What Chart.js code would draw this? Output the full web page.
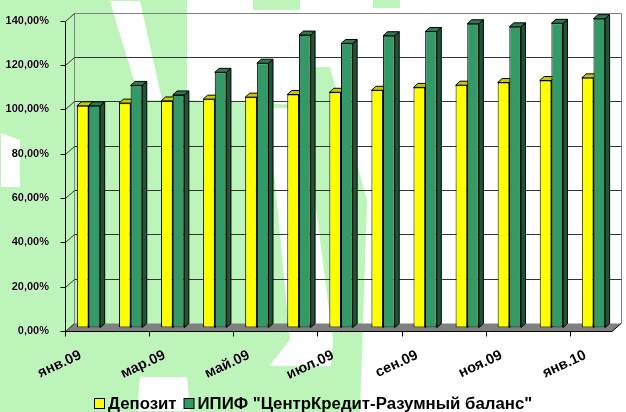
<!DOCTYPE html>
<html>
<head>
<meta charset="utf-8">
<script src="https://cdn.jsdelivr.net/npm/chart.js@4.4.0/dist/chart.umd.min.js"></script>
<style>
  html, body { margin: 0; padding: 0; background: #fff; }
</style>
</head>
<body>
<canvas id="myChart" width="626" height="412"></canvas>
<script>
const labels = ['янв.09', 'фев.09', 'мар.09', 'апр.09', 'май.09', 'июн.09', 'июл.09',
                'авг.09', 'сен.09', 'окт.09', 'ноя.09', 'дек.09', 'янв.10'];
const deposit = [100.0, 101.2, 102.2, 103.0, 103.9, 105.1, 106.1, 107.0, 108.3, 109.3, 110.5, 111.4, 112.6];
const fund = [100.0, 109.2, 104.9, 115.1, 119.2, 131.9, 128.1, 131.6, 133.5, 137.0, 135.6, 137.2, 139.3];
const yMax = 140;
const yStep = 20;

const fontFamily = '"Liberation Sans", Arial, sans-serif';

// 3d offsets, relative to the plane where the bars stand
const front = { dx: -2.5, dy: 3.4 };
const back = { dx: 6.5, dy: -4.6 };
const barDepth = { dx: 4.5, dy: -4 };

// outline of the pale logo behind the chart (holes are cut with evenodd)
const logoShapes = [
  [[0, 0], [187, 0], [187, 100], [300, 105], [313, 67], [330, 67], [367, 200], [360, 412], [0, 412]],
  [[110, 1], [140, 1], [162, 100], [140, 100]],
  [[268, 108], [303, 108], [333, 340], [331, 366], [269, 366], [290, 340]],
  [[140, 377], [187, 377], [190, 411], [137, 411]],
  [[1, 133], [20, 140], [20, 187], [1, 187]]
];
const logoPatches = [
  [[253, 0], [300, 0], [300, 10], [253, 10]],
  [[373, 0], [400, 0], [400, 8], [373, 8]]
];

function poly(ctx, pts) {
  ctx.beginPath();
  ctx.moveTo(pts[0][0], pts[0][1]);
  for (let i = 1; i < pts.length; i++) ctx.lineTo(pts[i][0], pts[i][1]);
  ctx.closePath();
  ctx.fill();
}

function line(ctx, x1, y1, x2, y2, color) {
  ctx.strokeStyle = color;
  ctx.beginPath();
  ctx.moveTo(x1, y1);
  ctx.lineTo(x2, y2);
  ctx.stroke();
}

function watermark(ctx) {
  ctx.save();
  ctx.globalCompositeOperation = 'darken';
  ctx.fillStyle = '#bdf4ba';
  const p = new Path2D();
  logoShapes.forEach(s => {
    p.moveTo(s[0][0], s[0][1]);
    s.slice(1).forEach(pt => p.lineTo(pt[0], pt[1]));
    p.closePath();
  });
  ctx.fill(p, 'evenodd');
  logoPatches.forEach(s => poly(ctx, s));
  ctx.restore();
}

const frame3d = {
  id: 'frame3d',
  beforeDraw(chart) {
    const ctx = chart.ctx;
    ctx.save();
    ctx.fillStyle = '#fff';
    ctx.fillRect(0, 0, chart.width, chart.height);
    ctx.restore();
  },
  beforeDatasetsDraw(chart) {
    const ctx = chart.ctx;
    watermark(ctx);
    const a = chart.chartArea;
    const ys = chart.scales.y;
    const xs = chart.scales.x;
    const fl = a.left + front.dx, fr = a.right + front.dx;
    const bl = a.left + back.dx, br = a.right + back.dx;
    const yb = v => Math.round(ys.getPixelForValue(v) + back.dy) + 0.5;
    const yf = v => Math.round(ys.getPixelForValue(v) + front.dy) + 0.5;
    ctx.save();
    ctx.lineWidth = 1;

    // floor
    ctx.fillStyle = '#808080';
    poly(ctx, [[fl, yf(0)], [fr, yf(0)], [br, yb(0)], [bl, yb(0)]]);
    line(ctx, fr, yf(0), br, yb(0), '#000');

    // back wall frame and grid
    const xbl = Math.round(bl) + 0.5, xbr = Math.round(br) + 0.5, xfl = Math.round(fl) + 0.5;
    line(ctx, xbl, yb(yMax), xbr, yb(yMax), '#808080');
    line(ctx, xbr, yb(yMax), xbr, yb(0), '#808080');
    line(ctx, xbl, yb(yMax), xbl, yb(0), '#808080');
    for (let v = 0; v <= yMax; v += yStep) {
      if (v > 0 && v < yMax) line(ctx, xbl, yb(v), xbr, yb(v), '#333');
      line(ctx, xfl, yf(v), xbl, yb(v), '#333');
      line(ctx, xfl - 5, yf(v), xfl, yf(v), '#000');
    }
    // value axis and category axis
    line(ctx, xfl, yf(yMax), xfl, yf(0), '#000');
    line(ctx, fl, yf(0), fr, yf(0), '#000');
    const catW = a.width / labels.length;
    for (let i = 0; i < labels.length; i += 2) {
      const x = Math.round(xs.getPixelForValue(i) - catW / 2 + front.dx) + 0.5;
      line(ctx, x, yf(0), x, yf(0) + 5, '#000');
    }

    // tops and sides of the columns
    const metas = chart.getSortedVisibleDatasetMetas().slice().sort((m, n) => m.index - n.index);
    for (let i = 0; i < labels.length; i++) {
      metas.forEach(meta => {
        const bar = meta.data[i];
        const ds = chart.data.datasets[meta.index];
        const l = bar.x - bar.width / 2, r = bar.x + bar.width / 2;
        const t = bar.y, b = bar.base;
        const dx = barDepth.dx, dy = barDepth.dy;
        ctx.strokeStyle = '#000';
        ctx.fillStyle = ds.sideColor;
        ctx.beginPath();
        ctx.moveTo(r, t); ctx.lineTo(r + dx, t + dy); ctx.lineTo(r + dx, b + dy); ctx.lineTo(r, b);
        ctx.closePath(); ctx.fill(); ctx.stroke();
        ctx.fillStyle = ds.topColor;
        ctx.beginPath();
        ctx.moveTo(l, t); ctx.lineTo(l + dx, t + dy); ctx.lineTo(r + dx, t + dy); ctx.lineTo(r, t);
        ctx.closePath(); ctx.fill(); ctx.stroke();
      });
    }
    ctx.restore();
  },
  afterDraw(chart) {
    // legend
    const ctx = chart.ctx;
    ctx.save();
    ctx.font = 'bold 16.8px ' + fontFamily;
    ctx.textBaseline = 'alphabetic';
    const items = chart.data.datasets.map(d => ({ text: d.label, color: d.backgroundColor, w: ctx.measureText(d.label).width }));
    const box = 10, gapText = 4, gapItem = 7;
    let total = 0;
    items.forEach(it => { total += box + gapText + it.w; });
    total += gapItem * (items.length - 1);
    let x = Math.round(313 - total / 2);
    const baseY = 409;
    items.forEach(it => {
      ctx.fillStyle = it.color;
      ctx.fillRect(x + 0.5, 398.5, box, box);
      ctx.strokeStyle = '#000';
      ctx.lineWidth = 1;
      ctx.strokeRect(x + 0.5, 398.5, box, box);
      ctx.fillStyle = '#000';
      ctx.fillText(it.text, x + box + gapText, baseY);
      x += box + gapText + it.w + gapItem;
    });
    ctx.restore();
  }
};

const data = {
  labels: labels,
  datasets: [{
    label: 'Депозит',
    data: deposit,
    backgroundColor: '#ffff00',
    topColor: '#c8c800',
    sideColor: '#9a9a00',
    borderColor: '#000',
    borderWidth: 1,
    borderSkipped: false
  }, {
    label: 'ИПИФ "ЦентрКредит-Разумный баланс"',
    data: fund,
    backgroundColor: '#339966',
    topColor: '#2a7a52',
    sideColor: '#1d5536',
    borderColor: '#000',
    borderWidth: 1,
    borderSkipped: false
  }]
};

const config = {
  type: 'bar',
  data: data,
  plugins: [frame3d],
  options: {
    responsive: false,
    animation: false,
    events: [],
    categoryPercentage: 0.554,
    barPercentage: 1.0,
    layout: { padding: { top: 15.5, left: 0, right: 11.5, bottom: 0 } },
    plugins: {
      legend: { display: false },
      tooltip: { enabled: false }
    },
    scales: {
      x: {
        grid: { display: false },
        border: { display: false },
        ticks: {
          autoSkip: false,
          minRotation: 25,
          maxRotation: 25,
          padding: 11,
          labelOffset: -8,
          color: '#000',
          font: { family: fontFamily, size: 14.5, weight: 'bold' },
          callback: (v, i) => (i % 2 === 0 ? labels[i] : '')
        },
        afterFit: s => { s.height = 84.4; }
      },
      y: {
        min: 0,
        max: yMax,
        grid: { display: false },
        border: { display: false },
        ticks: {
          stepSize: yStep,
          padding: 10.5,
          labelOffset: 3.4,
          color: '#000',
          font: { family: fontFamily, size: 11, weight: 'bold' },
          callback: v => v.toFixed(2).replace('.', ',') + '%'
        },
        afterFit: s => { s.width = 67.5; }
      }
    }
  }
};

const myChart = new Chart(document.getElementById('myChart').getContext('2d'), config);
</script>
</body>
</html>
